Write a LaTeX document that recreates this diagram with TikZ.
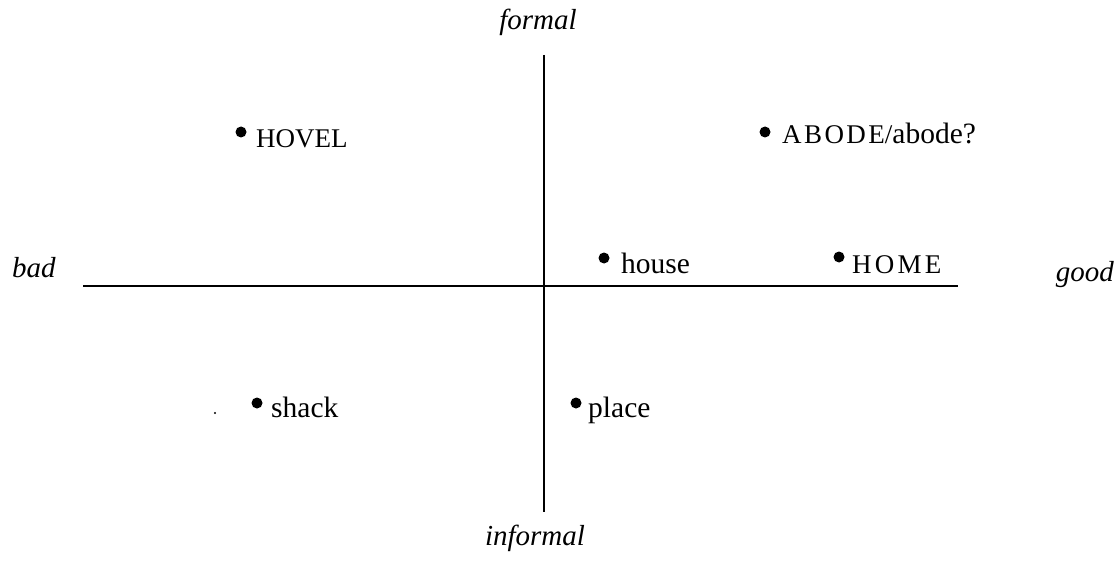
\documentclass[tikz,border=0pt]{standalone}
\usepackage{fontspec}
\setmainfont{Liberation Serif}
\begin{document}
\begin{tikzpicture}[x=1pt,y=-1pt,
  axis/.style={line width=2.8pt},
  pt/.style={circle,fill=black,inner sep=0pt,minimum size=11pt},
  lbl/.style={anchor=base west,inner sep=0pt,font=\fontsize{29.5}{34}\selectfont},
  caps/.style={anchor=base west,inner sep=0pt,font=\fontsize{27}{32}\selectfont},
  pole/.style={inner sep=0pt,font=\fontsize{29}{34}\selectfont\itshape}]
\useasboundingbox (0,0) rectangle (1119,567);
% axes
\coordinate (L) at (83,286);
\coordinate (R) at (958,286);
\coordinate (T) at (544,55);
\coordinate (B) at (544,512);
\draw[axis] (L) -- (R);
\draw[axis] (T) -- (B);
% poles
\node[pole,anchor=base] (formal) at (538,30) {formal};
\node[pole,anchor=base] (informal) at (535,545) {informal};
\node[pole,anchor=base west] (bad) at (12,277) {bad};
\node[pole,anchor=base east] (good) at (1114,281) {good};
% points
\node[pt] (d1) at (241,132) {};
\node[caps] (hovel) at (256,147) {HOVEL};
\node[pt] (d2) at (765,132) {};
\node[caps] (abode) at (782,144) {\addfontfeature{LetterSpace=9}ABODE\addfontfeature{LetterSpace=0}/\fontsize{29.5}{34}\selectfont abode?};
\node[pt] (d3) at (604,258) {};
\node[lbl] (house) at (621,273) {house};
\node[pt] (d4) at (839,257) {};
\node[caps] (home) at (852,273) {\addfontfeature{LetterSpace=12}HOME};
\node[pt] (d5) at (257,403) {};
\node[lbl] (shack) at (271,417) {shack};
\node[pt] (d6) at (576,403) {};
\node[lbl] (place) at (588,417) {place};
\fill (215,413) circle (1.2pt);
\end{tikzpicture}
\end{document}
